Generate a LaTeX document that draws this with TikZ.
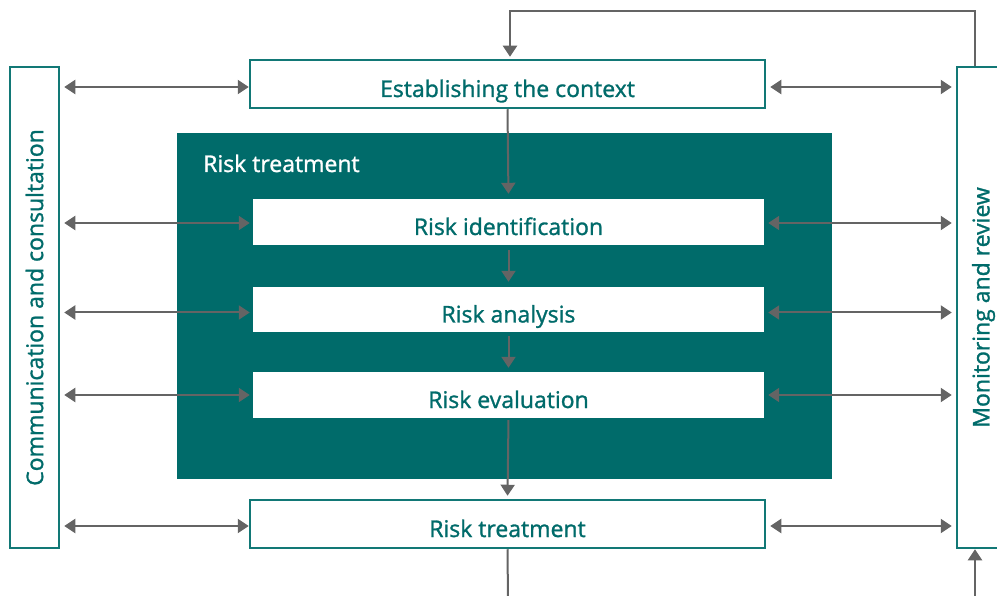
\documentclass[tikz,border=0pt]{standalone}
\usepackage{fontspec}
\setmainfont{Open Sans}
\newfontfamily\lblfont{Open Sans}[FakeBold=1.2]
\usetikzlibrary{arrows.meta,calc}
\definecolor{tealc}{RGB}{0,107,106}
\definecolor{tealb}{RGB}{18,120,118}
\definecolor{arrgray}{RGB}{100,100,100}
\tikzset{
  lbl/.style={font=\lblfont\fontsize{23}{27}\selectfont},
  outbox/.style={draw=tealb,line width=2.5pt,fill=white,inner sep=0pt,text=tealc,lbl,text height=26pt,text depth=0pt},
  inbox/.style={fill=white,inner sep=0pt,text=tealc,lbl,text height=26pt,text depth=0pt,minimum width=511pt,minimum height=46pt},
  conn/.style={draw=arrgray,line width=2pt,-{Triangle[width=14pt,length=11pt]}},
  dbl/.style={draw=arrgray,line width=2pt,{Triangle[width=14pt,length=11pt]}-{Triangle[width=14pt,length=11pt]}},
}
\begin{document}
\begin{tikzpicture}[x=1pt,y=-1pt]
\useasboundingbox (0,0) rectangle (997,596);
% side boxes
\node[outbox,minimum width=49pt,minimum height=481pt] (comm) at (34.5,307.5) {};
\node[text=tealc,lbl,rotate=90] (commt) at (comm.center) {Communication and consultation};
\node[outbox,minimum width=53pt,minimum height=481pt] (mon) at (983.5,307.5) {};
\node[text=tealc,lbl,rotate=90] (mont) at (mon.center) {Monitoring and review};
% main column
\node[outbox,minimum width=515pt,minimum height=48pt] (ctx) at (507.5,84) {Establishing the context};
\node[fill=tealc,minimum width=655pt,minimum height=346pt,inner sep=0pt] (rt) at (504.5,306) {};
\node[text=white,lbl,anchor=base west,inner sep=0pt] (rtt) at (203,172) {Risk treatment};
\node[inbox] (rid) at (508.5,222) {Risk identification};
\node[inbox,minimum height=45pt] (ran) at (508.5,309.5) {Risk analysis};
\node[inbox] (rev) at (508.5,395) {Risk evaluation};
\node[outbox,minimum width=515pt,minimum height=48pt] (rtr) at (507.5,524) {Risk treatment};
% vertical flow
\draw[conn,shorten >=5pt] (ctx.south) -- (rid.north);
\draw[conn,shorten <=5pt,shorten >=5pt] (rid.south) -- (ran.north);
\draw[conn,shorten <=4pt,shorten >=4pt] (ran.south) -- (rev.north);
\draw[conn,shorten <=2pt,shorten >=3pt] (rev.south) -- (rtr.north);
\coordinate (bot1) at (508,600);
\draw[draw=arrgray,line width=2pt] (rtr.south) -- (bot1);
\coordinate (bot2) at (975,600);
\draw[conn] (bot2) -- (bot2 |- mon.south);
% top loop
\coordinate (tl) at (510,11);
\draw[conn,shorten >=2pt] (975,0 |- mon.north) -- (975,11) -- (tl) -- (tl |- ctx.north);
% double arrows left
\draw[dbl,shorten <=4pt] ([yshift=-3pt]comm.east |- ctx.west) -- ([yshift=-3pt]ctx.west);
\draw[dbl,shorten <=4pt,shorten >=3pt] ([yshift=-1pt]comm.east |- rid.west) -- ([yshift=-1pt]rid.west);
\draw[dbl,shorten <=4pt,shorten >=3pt] ([yshift=-3pt]comm.east |- ran.west) -- ([yshift=-3pt]ran.west);
\draw[dbl,shorten <=4pt,shorten >=3pt] (comm.east |- rev.west) -- (rev.west);
\draw[dbl,shorten <=4pt] ([yshift=-2pt]comm.east |- rtr.west) -- ([yshift=-2pt]rtr.west);
% double arrows right
\draw[dbl,shorten <=4pt,shorten >=4pt] ([yshift=-3pt]ctx.east) -- ([yshift=-3pt]mon.west |- ctx.east);
\draw[dbl,shorten <=4pt,shorten >=4pt] ([yshift=-1pt]rid.east) -- ([yshift=-1pt]mon.west |- rid.east);
\draw[dbl,shorten <=4pt,shorten >=4pt] ([yshift=-3pt]ran.east) -- ([yshift=-3pt]mon.west |- ran.east);
\draw[dbl,shorten <=4pt,shorten >=4pt] (rev.east) -- (mon.west |- rev.east);
\draw[dbl,shorten <=4pt,shorten >=4pt] ([yshift=-2pt]rtr.east) -- ([yshift=-2pt]mon.west |- rtr.east);
\end{tikzpicture}
\end{document}
